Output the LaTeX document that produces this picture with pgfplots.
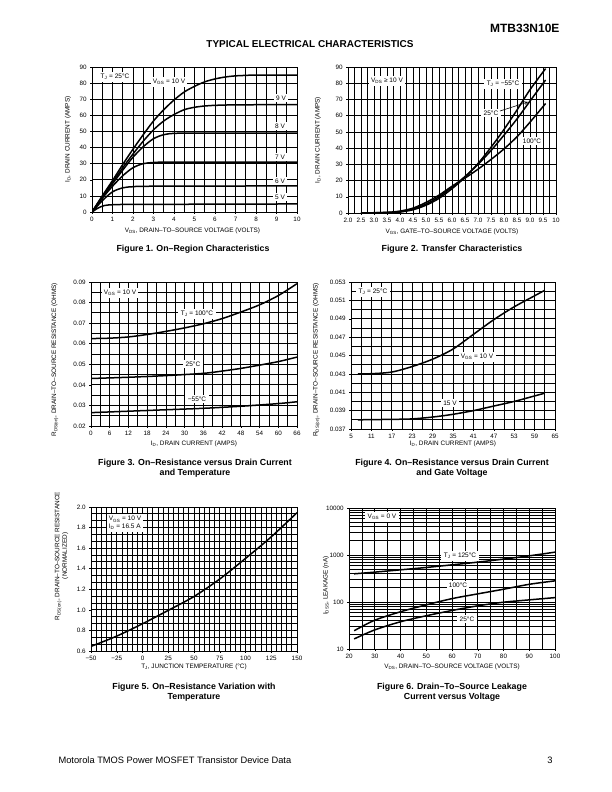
\documentclass[border=0pt]{standalone}
\usepackage{fontspec}
\setmainfont{Liberation Sans}
\usepackage{pgfplots}
\pgfplotsset{compat=1.18}
\pgfplotsset{
  ds/.style={
    scale only axis, anchor=south west, clip=true,
    axis line style={line width=0.9pt},
    grid=both,
    major grid style={black, line width=0.75pt},
    minor grid style={black, line width=0.75pt},
    tick align=outside, major tick length=1.8pt, minor tick length=0pt,
    tick style={black, line width=0.5pt},
    xtick pos=bottom, ytick pos=left,
    /pgf/number format/assume math mode=true,
    tick label style={font=\fontsize{6.3}{7}\selectfont},
    label style={font=\fontsize{6.4}{7.5}\selectfont},
    scaled ticks=false,
    no markers,
    every axis plot post/.append style={black, solid, mark=none, line width=1.5pt, smooth, tension=0.5},
  },
}
\tikzset{lbl/.style={fill=white, inner xsep=2.4pt, inner ysep=1.8pt, font=\fontsize{6.5}{7.5}\selectfont},
  figcap/.style={font=\fontsize{8.8}{10.5}\selectfont\bfseries}}
\begin{document}
\begin{tikzpicture}
\path[use as bounding box] (0pt,0pt) rectangle (612pt,-792pt);

% ---------------- Figure 1 ----------------
\begin{axis}[ds, at={(92pt,-212pt)}, width=205pt, height=145pt,
  xmin=0, xmax=10, ymin=0, ymax=90,
  xtick={0,...,10}, ytick={0,10,...,90}, minor x tick num=1,
  xlabel={V\textsubscript{DS}, DRAIN–TO–SOURCE VOLTAGE (VOLTS)},
  ylabel={I\textsubscript{D}, DRAIN CURRENT (AMPS)},
  xlabel style={at={(axis description cs:0.49,-0.131)}, anchor=center},
  ylabel style={at={(axis description cs:-0.117,0.5)}, anchor=center}]
\addplot coordinates {(0,0) (0.5,10) (1,19.5) (1.5,29.5) (2,39) (2.5,48) (3,56.5) (3.5,63.5) (4,69.5) (4.5,74.5) (5,78) (5.5,80.8) (6,82.6) (6.5,83.8) (7,84.5) (7.5,84.8) (8,85) (10,85)};
\addplot coordinates {(0,0) (0.5,9.5) (1,18.5) (1.5,27.5) (2,36) (2.5,44) (3,51) (3.5,56.5) (4,60.5) (4.5,63.5) (5,65) (5.5,65.8) (6,66.2) (7,66.5) (10,66.7)};
\addplot coordinates {(0,0) (0.5,9) (1,17.5) (1.5,26) (2,34) (2.5,40.5) (3,45.5) (3.5,48) (4,48.8) (5,49) (10,49)};
\addplot coordinates {(0,0) (0.5,8.5) (1,16) (1.5,22.5) (2,27.5) (2.5,30) (3,30.7) (4,31) (10,31)};
\addplot coordinates {(0,0) (0.5,7) (1,12.5) (1.5,15) (2,15.7) (3,16) (10,16.2)};
\addplot coordinates {(0,0) (0.3,2.5) (0.6,4) (1,4.5) (2,4.7) (10,5)};
\end{axis}
\node[lbl] at (115pt,-77pt) {T\textsubscript{J} = 25°C};
\node[lbl] at (169pt,-82pt) {V\textsubscript{GS} = 10 V};
\node[lbl] at (281pt,-98pt) {9 V};
\node[lbl] at (280pt,-126pt) {8 V};
\node[lbl] at (280pt,-157pt) {7 V};
\node[lbl] at (280pt,-181pt) {6 V};
\node[lbl] at (280pt,-197pt) {5 V};
\node[figcap] at (193pt,-249pt) {Figure 1. On–Region Characteristics};

% ---------------- Figure 2 ----------------
\begin{axis}[ds, at={(348pt,-213pt)}, width=208pt, height=146pt,
  xmin=2, xmax=10, ymin=0, ymax=90,
  xtick={2,2.5,...,10}, xticklabels={2.0,2.5,3.0,3.5,4.0,4.5,5.0,5.5,6.0,6.5,7.0,7.5,8.0,8.5,9.0,9.5,10},
  ytick={0,10,...,90}, minor x tick num=1,
  xlabel={V\textsubscript{GS}, GATE–TO–SOURCE VOLTAGE (VOLTS)},
  ylabel={I\textsubscript{D}, DRAIN CURRENT (AMPS)},
  xlabel style={at={(axis description cs:0.5,-0.128)}, anchor=center},
  ylabel style={at={(axis description cs:-0.144,0.5)}, anchor=center}]
\addplot coordinates {(2.5,0) (3.5,0.2) (4.0,0.6) (4.5,2) (5.0,4.8) (5.5,9) (6.0,15) (6.5,22) (7.0,30.5) (7.5,40.5) (8.0,51.5) (8.5,63.5) (9.0,76) (9.6,89)};
\addplot coordinates {(2.5,0) (3.5,0.3) (4.0,0.8) (4.5,2.5) (5.0,5.5) (5.5,10) (6.0,16) (6.5,22.5) (7.0,30) (7.5,38.5) (8.0,48) (8.5,58) (9.0,69) (9.6,82)};
\addplot coordinates {(2.5,0) (3.5,0.4) (4.0,1.2) (4.5,3) (5.0,6.5) (5.5,11) (6.0,16.5) (6.5,21.5) (7.0,27) (7.5,33) (8.0,39.5) (8.5,47) (9.0,56) (9.6,67.5)};
\end{axis}
\node[lbl] at (387pt,-81pt) {V\textsubscript{DS} ≥ 10 V};
\node[lbl] at (503pt,-84pt) {T\textsubscript{J} = −55°C};
\node[lbl] at (491pt,-113pt) {25°C};
\draw[-stealth, line width=0.6pt] (500pt,-111pt) -- (528pt,-102pt);
\node[lbl] at (532pt,-141pt) {100°C};
\node[figcap] at (452pt,-249pt) {Figure 2. Transfer Characteristics};

% ---------------- Figure 3 ----------------
\begin{axis}[ds, at={(91pt,-426pt)}, width=206pt, height=144pt,
  xmin=0, xmax=66, ymin=0.02, ymax=0.09,
  xtick={0,6,...,66}, ytick={0.02,0.03,...,0.09}, minor x tick num=1, minor y tick num=1,
  yticklabel style={/pgf/number format/.cd, fixed, fixed zerofill, precision=2},
  xlabel={I\textsubscript{D}, DRAIN CURRENT (AMPS)},
  ylabel={R\textsubscript{DS(on)}, DRAIN–TO–SOURCE RESISTANCE (OHMS)},
  xlabel style={at={(axis description cs:0.5,-0.125)}, anchor=center},
  ylabel style={at={(axis description cs:-0.175,0.46)}, anchor=center}]
\addplot coordinates {(0,0.0625) (6,0.0627) (12,0.0633) (18,0.0645) (24,0.066) (30,0.0677) (36,0.0697) (42,0.0722) (48,0.0754) (54,0.0789) (60,0.0834) (66,0.0892)};
\addplot coordinates {(0,0.0431) (12,0.0437) (24,0.0445) (36,0.0456) (42,0.0467) (48,0.048) (54,0.0496) (60,0.0513) (66,0.0535)};
\addplot coordinates {(0,0.0265) (12,0.0272) (24,0.0279) (36,0.0286) (48,0.0296) (60,0.0309) (66,0.0318)};
\end{axis}
\node[lbl] at (120pt,-293pt) {V\textsubscript{GS} = 10 V};
\node[lbl] at (197pt,-314pt) {T\textsubscript{J} = 100°C};
\node[lbl] at (193pt,-364pt) {25°C};
\node[lbl] at (197pt,-399pt) {−55°C};
\node[figcap, align=center] at (195pt,-468pt) {Figure 3. On–Resistance versus Drain Current\\and Temperature};

% ---------------- Figure 4 ----------------
\begin{axis}[ds, at={(351pt,-429pt)}, width=204pt, height=147pt,
  xmin=5, xmax=65, ymin=0.037, ymax=0.053,
  xtick={5,11,...,65}, ytick={0.037,0.039,...,0.0531}, minor x tick num=1, minor y tick num=1,
  yticklabel style={/pgf/number format/.cd, fixed, fixed zerofill, precision=3},
  xlabel={I\textsubscript{D}, DRAIN CURRENT (AMPS)},
  ylabel={R\textsubscript{DS(on)}, DRAIN–TO–SOURCE RESISTANCE (OHMS)},
  xlabel style={at={(axis description cs:0.5,-0.102)}, anchor=center},
  ylabel style={at={(axis description cs:-0.17,0.47)}, anchor=center}]
\addplot coordinates {(7,0.0430) (11,0.04302) (17,0.0432) (23,0.0438) (29,0.0446) (35,0.0457) (41,0.0473) (47,0.0489) (53,0.0503) (59,0.0515) (62,0.0521)};
\addplot coordinates {(7,0.0380) (17,0.03805) (23,0.0381) (29,0.0383) (35,0.0386) (41,0.0390) (47,0.0395) (53,0.0400) (59,0.0406) (62,0.0409)};
\end{axis}
\node[lbl] at (373pt,-292pt) {T\textsubscript{J} = 25°C};
\node[lbl] at (477pt,-357pt) {V\textsubscript{GS} = 10 V};
\node[lbl] at (450pt,-403pt) {15 V};
\node[figcap, align=center] at (452pt,-468pt) {Figure 4. On–Resistance versus Drain Current\\and Gate Voltage};

% ---------------- Figure 5 ----------------
\begin{axis}[ds, at={(91pt,-651pt)}, width=206pt, height=144pt,
  xmin=-50, xmax=150, ymin=0.6, ymax=2.0,
  xtick={-50,-25,...,150}, xticklabels={−50,−25,0,25,50,75,100,125,150},
  ytick={0.6,0.8,...,2.01}, minor x tick num=4, minor y tick num=2,
  yticklabel style={/pgf/number format/.cd, fixed, fixed zerofill, precision=1},
  xlabel={T\textsubscript{J}, JUNCTION TEMPERATURE (°C)},
  ylabel={R\textsubscript{DS(on)}, DRAIN–TO–SOURCE RESISTANCE\\(NORMALIZED)},
  xlabel style={at={(axis description cs:0.5,-0.111)}, anchor=center},
  ylabel style={at={(axis description cs:-0.143,0.66)}, anchor=center, align=center}]
\addplot coordinates {(-50,0.645) (-25,0.745) (0,0.865) (25,0.995) (50,1.13) (75,1.3) (100,1.5) (125,1.71) (150,1.945)};
\end{axis}
\node[lbl, align=left, inner ysep=2pt] at (125pt,-523pt) {V\textsubscript{GS} = 10 V\\I\textsubscript{D} = 16.5 A};
\node[figcap, align=center] at (194pt,-692pt) {Figure 5. On–Resistance Variation with\\Temperature};

% ---------------- Figure 6 ----------------
\begin{axis}[ds, at={(349pt,-649pt)}, width=206pt, height=141pt,
  ymode=log, xmin=20, xmax=100, ymin=10, ymax=10000,
  xtick={20,30,...,100}, minor x tick num=1,
  ytick={10,100,1000,10000}, yticklabels={10,100,1000,10000},
  xlabel={V\textsubscript{DS}, DRAIN–TO–SOURCE VOLTAGE (VOLTS)},
  ylabel={I\textsubscript{DSS}, LEAKAGE (nA)},
  xlabel style={at={(axis description cs:0.5,-0.128)}, anchor=center},
  ylabel style={at={(axis description cs:-0.112,0.45)}, anchor=center}]
\addplot coordinates {(22,398) (30,432) (40,484) (50,543) (60,618) (70,705) (80,818) (90,960) (100,1150)};
\addplot coordinates {(22,24.5) (30,41) (40,62) (50,87) (60,118) (70,149) (80,187) (90,238) (100,282)};
\addplot coordinates {(22,16.4) (30,25.5) (40,38) (50,51) (60,66) (70,83) (80,99) (90,111) (100,124)};
\end{axis}
\node[lbl] at (382pt,-517pt) {V\textsubscript{GS} = 0 V};
\node[lbl] at (460pt,-556pt) {T\textsubscript{J} = 125°C};
\node[lbl] at (458pt,-585pt) {100°C};
\node[lbl] at (467pt,-619pt) {25°C};
\node[figcap, align=center] at (452pt,-692pt) {Figure 6. Drain–To–Source Leakage\\Current versus Voltage};

% ---------------- Page text ----------------
\node[anchor=east, font=\fontsize{12}{14}\selectfont\bfseries] at (563pt,-28pt) {MTB33N10E};
\node[font=\fontsize{10}{12}\selectfont\bfseries] at (310pt,-44pt) {TYPICAL ELECTRICAL CHARACTERISTICS};
\node[anchor=west, font=\fontsize{9.3}{11}\selectfont] at (55pt,-760pt) {Motorola TMOS Power MOSFET Transistor Device Data};
\node[anchor=east, font=\fontsize{9.3}{11}\selectfont] at (556pt,-760pt) {3};
\end{tikzpicture}
\end{document}
